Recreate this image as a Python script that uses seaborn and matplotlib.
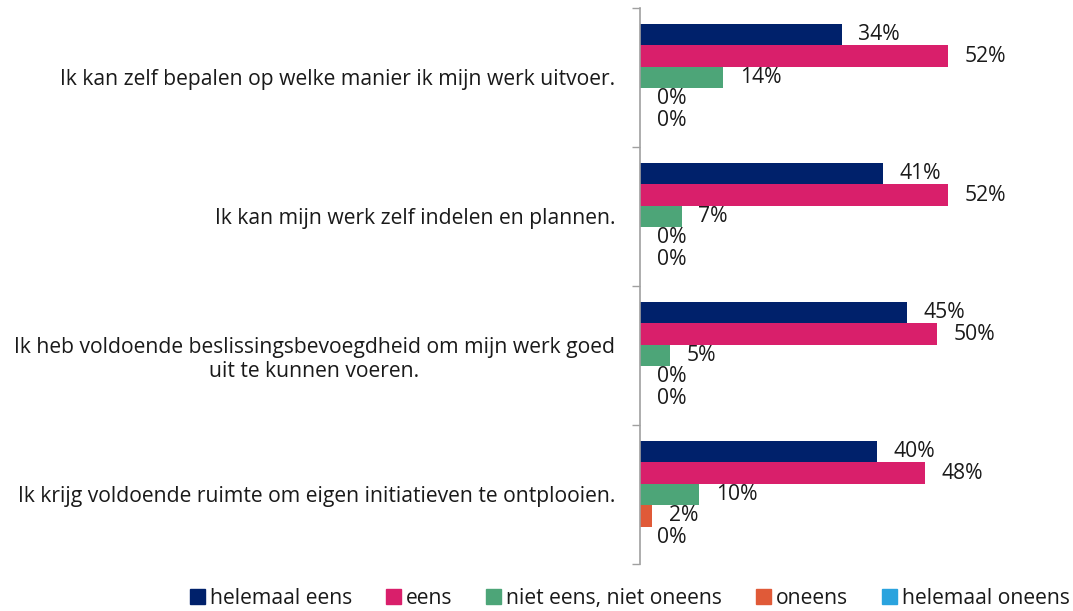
import numpy as np
import pandas as pd
import seaborn as sns
import matplotlib.pyplot as plt
from matplotlib.ticker import FixedLocator

# Statements (y categories)
statements = [
    "Ik kan zelf bepalen op welke manier ik mijn werk uitvoer.",
    "Ik kan mijn werk zelf indelen en plannen.",
    "Ik heb voldoende beslissingsbevoegdheid om mijn werk goed\nuit te kunnen voeren.",
    "Ik krijg voldoende ruimte om eigen initiatieven te ontplooien.",
]

# Answer categories (hue)
answers = ["helemaal eens", "eens", "niet eens, niet oneens", "oneens", "helemaal oneens"]
colors = ["#00216B", "#D91F6B", "#4DA578", "#E05A38", "#2AA3DE"]

# Percentages per answer, one value per statement
helemaal_eens = [34, 41, 45, 40]
eens = [52, 52, 50, 48]
neutraal = [14, 7, 5, 10]
oneens = [0, 0, 0, 2]
helemaal_oneens = [0, 0, 0, 0]

values = [helemaal_eens, eens, neutraal, oneens, helemaal_oneens]
rows = []
for ans, vals in zip(answers, values):
    for st, v in zip(statements, vals):
        rows.append({"statement": st, "answer": ans, "pct": v / 100})
df = pd.DataFrame(rows)

sns.set_style("white")
plt.rcParams['font.family'] = ['Open Sans', 'DejaVu Sans']
fs = 15.2

fig = plt.figure(figsize=(10.73, 6.11), dpi=100)
ax = fig.add_axes([0.5965, 0.077, 0.4035, 0.91])

sns.barplot(
    data=df, y="statement", x="pct", hue="answer", order=statements,
    hue_order=answers, palette=colors, orient="h", width=0.77,
    saturation=1, linewidth=0, ax=ax, legend=True,
)

for cont, vals in zip(ax.containers, values):
    ax.bar_label(cont, labels=[f"{v}%" for v in vals], padding=12,
                 fontsize=fs, color="#1a1a1a")

ax.set_xlim(0, 0.73)
ax.set_ylim(3.5, -0.5)
ax.set_xlabel("")
ax.set_ylabel("")
ax.set_xticks([])
ax.tick_params(axis="y", which="major", length=0, labelsize=fs, pad=18)
ax.yaxis.set_minor_locator(FixedLocator([-0.5, 0.5, 1.5, 2.5, 3.5]))
ax.tick_params(axis="y", which="minor", length=6, width=1, color="#A0A0A0", direction="out", left=True)
for lbl in ax.get_yticklabels():
    lbl.set_horizontalalignment("right")
    lbl.set_multialignment("center")
    lbl.set_color("#1a1a1a")

for s in ["top", "right", "bottom"]:
    ax.spines[s].set_visible(False)
ax.spines["left"].set_color("#A0A0A0")
ax.spines["left"].set_linewidth(1.2)

ax.legend_.remove()
handles = [plt.Rectangle((0, 0), 1, 1, color=c) for c in colors]
fig.legend(handles, answers, loc="lower center", bbox_to_anchor=(0.587, -0.028),
           ncol=5, frameon=False, fontsize=fs, handlelength=0.7, handleheight=0.7,
           handletextpad=0.25, columnspacing=1.6, labelcolor="#1a1a1a")

fig.savefig("out.png", dpi=100)
